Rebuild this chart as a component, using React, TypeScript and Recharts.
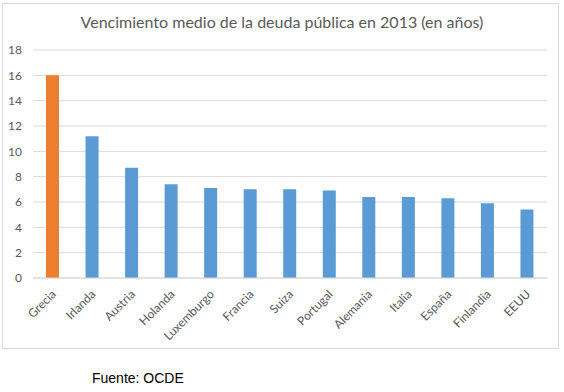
import React from 'react';
import { BarChart, Bar, XAxis, YAxis, CartesianGrid, Cell } from 'recharts';

const countries = ['Grecia', 'Irlanda', 'Austria', 'Holanda', 'Luxemburgo', 'Francia', 'Suiza', 'Portugal', 'Alemania', 'Italia', 'España', 'Finlandia', 'EEUU'];
const years = [16.0, 11.2, 8.7, 7.4, 7.1, 7.0, 7.0, 6.9, 6.4, 6.4, 6.3, 5.9, 5.4];
const yTicks = [0, 2, 4, 6, 8, 10, 12, 14, 16, 18];
const highlighted = 'Grecia';

const data = countries.map((name, i) => ({ name, value: years[i] }));

const font = 'Lato, "Open Sans", sans-serif';

const CountryTick = ({ x, y, payload }: any) => (
  <g transform={`translate(${x + 4},${y + 9})`}>
    <text transform="rotate(-45)" textAnchor="end" fill="#595959" fontSize={12} fontFamily={font}>
      {payload.value}
    </text>
  </g>
);

export default function App() {
  return (
    <div style={{ position: 'absolute', left: 0, top: 0, width: 564, height: 392, background: '#fff' }}>
      <div style={{ position: 'absolute', left: 2, top: 3, width: 555, height: 344, border: '1px solid #d9d9d9' }} />
      <div style={{ position: 'absolute', left: 0, top: 12, width: 564, textAlign: 'center', fontFamily: font, fontSize: 16, color: '#595959' }}>
        Vencimiento medio de la deuda pública en 2013 (en años)
      </div>
      <div style={{ position: 'absolute', left: 92, top: 370, fontFamily: '"Liberation Sans", Arial, sans-serif', fontSize: 14, color: '#000' }}>
        Fuente: OCDE
      </div>
      <div style={{ position: 'absolute', left: 0, top: 0 }}>
        <BarChart width={564} height={392} data={data} margin={{ top: 50, right: 17, bottom: 44, left: 0 }}>
          <CartesianGrid vertical={false} stroke="#d9d9d9" />
          <XAxis dataKey="name" height={70} interval={0} axisLine={{ stroke: '#d9d9d9' }} tickLine={false} tick={<CountryTick />} />
          <YAxis width={33} domain={[0, 18]} ticks={yTicks} axisLine={false} tickLine={false} tickMargin={5}
            tick={{ fill: '#595959', fontSize: 12, fontFamily: font }} />
          <Bar dataKey="value" barSize={13} isAnimationActive={false}>
            {data.map((d) => (
              <Cell key={d.name} fill={d.name === highlighted ? '#ed7d31' : '#5b9bd5'} />
            ))}
          </Bar>
        </BarChart>
      </div>
    </div>
  );
}
